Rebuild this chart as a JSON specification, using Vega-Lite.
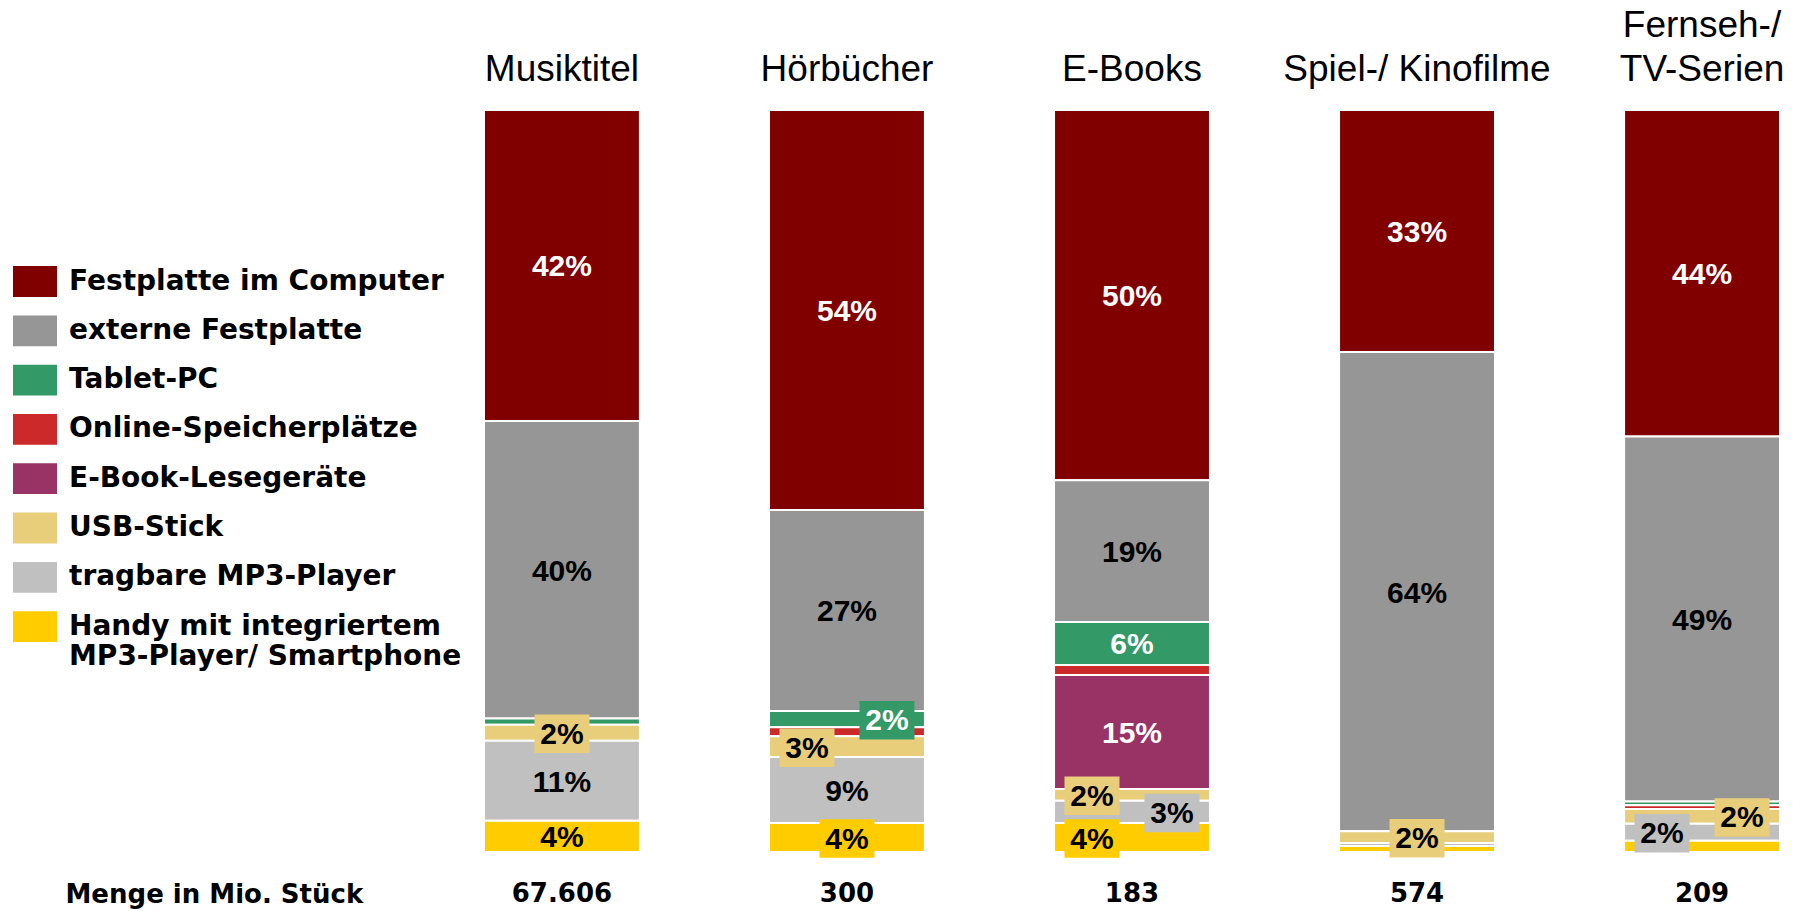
{
  "$schema": "https://vega.github.io/schema/vega-lite/v6.json",
  "autosize": {"type": "none"},
  "padding": {"left": 484, "top": 110, "right": 13, "bottom": 59},
  "width": 1296,
  "height": 742,
  "background": "white",
  "config": {"view": {"stroke": null}},
  "datasets": {
    "shares": [
      {"category": "Musiktitel", "segment": "Festplatte im Computer", "share": 41.9, "label": "42%", "side": "center"},
      {"category": "Musiktitel", "segment": "externe Festplatte", "share": 40.1, "label": "40%", "side": "center"},
      {"category": "Musiktitel", "segment": "Tablet-PC", "share": 0.84, "label": "", "side": "center"},
      {"category": "Musiktitel", "segment": "USB-Stick", "share": 2.16, "label": "2%", "side": "center"},
      {"category": "Musiktitel", "segment": "tragbare MP3-Player", "share": 10.8, "label": "11%", "side": "center"},
      {"category": "Musiktitel", "segment": "Handy mit integriertem MP3-Player/ Smartphone", "share": 4.2, "label": "4%", "side": "center"},
      {"category": "Hörbücher", "segment": "Festplatte im Computer", "share": 53.9, "label": "54%", "side": "center"},
      {"category": "Hörbücher", "segment": "externe Festplatte", "share": 27.1, "label": "27%", "side": "center"},
      {"category": "Hörbücher", "segment": "Tablet-PC", "share": 2.2, "label": "2%", "side": "right"},
      {"category": "Hörbücher", "segment": "Online-Speicherplätze", "share": 1.2, "label": "", "side": "center"},
      {"category": "Hörbücher", "segment": "USB-Stick", "share": 2.8, "label": "3%", "side": "left"},
      {"category": "Hörbücher", "segment": "tragbare MP3-Player", "share": 8.9, "label": "9%", "side": "center"},
      {"category": "Hörbücher", "segment": "Handy mit integriertem MP3-Player/ Smartphone", "share": 3.9, "label": "4%", "side": "center"},
      {"category": "E-Books", "segment": "Festplatte im Computer", "share": 49.9, "label": "50%", "side": "center"},
      {"category": "E-Books", "segment": "externe Festplatte", "share": 19.1, "label": "19%", "side": "center"},
      {"category": "E-Books", "segment": "Tablet-PC", "share": 5.8, "label": "6%", "side": "center"},
      {"category": "E-Books", "segment": "Online-Speicherplätze", "share": 1.35, "label": "", "side": "center"},
      {"category": "E-Books", "segment": "E-Book-Lesegeräte", "share": 15.35, "label": "15%", "side": "center"},
      {"category": "E-Books", "segment": "USB-Stick", "share": 1.6, "label": "2%", "side": "left"},
      {"category": "E-Books", "segment": "tragbare MP3-Player", "share": 3.0, "label": "3%", "side": "right"},
      {"category": "E-Books", "segment": "Handy mit integriertem MP3-Player/ Smartphone", "share": 3.9, "label": "4%", "side": "left"},
      {"category": "Spiel-/ Kinofilme", "segment": "Festplatte im Computer", "share": 32.6, "label": "33%", "side": "center"},
      {"category": "Spiel-/ Kinofilme", "segment": "externe Festplatte", "share": 64.6, "label": "64%", "side": "center"},
      {"category": "Spiel-/ Kinofilme", "segment": "USB-Stick", "share": 1.6, "label": "2%", "side": "center"},
      {"category": "Spiel-/ Kinofilme", "segment": "tragbare MP3-Player", "share": 0.4, "label": "", "side": "center"},
      {"category": "Spiel-/ Kinofilme", "segment": "Handy mit integriertem MP3-Player/ Smartphone", "share": 0.8, "label": "", "side": "center"},
      {"category": "Fernseh-/ TV-Serien", "segment": "Festplatte im Computer", "share": 44.0, "label": "44%", "side": "center"},
      {"category": "Fernseh-/ TV-Serien", "segment": "externe Festplatte", "share": 49.2, "label": "49%", "side": "center"},
      {"category": "Fernseh-/ TV-Serien", "segment": "Tablet-PC", "share": 0.5, "label": "", "side": "center"},
      {"category": "Fernseh-/ TV-Serien", "segment": "Online-Speicherplätze", "share": 0.5, "label": "", "side": "center"},
      {"category": "Fernseh-/ TV-Serien", "segment": "USB-Stick", "share": 2.0, "label": "2%", "side": "right"},
      {"category": "Fernseh-/ TV-Serien", "segment": "tragbare MP3-Player", "share": 2.3, "label": "2%", "side": "left"},
      {"category": "Fernseh-/ TV-Serien", "segment": "Handy mit integriertem MP3-Player/ Smartphone", "share": 1.5, "label": "", "side": "center"}
    ],
    "menge": [
      {"category": "Musiktitel", "menge": "67.606"},
      {"category": "Hörbücher", "menge": "300"},
      {"category": "E-Books", "menge": "183"},
      {"category": "Spiel-/ Kinofilme", "menge": "574"},
      {"category": "Fernseh-/ TV-Serien", "menge": "209"}
    ]
  },
  "resolve": {"axis": {"x": "independent"}},
  "layer": [
    {
      "data": {"name": "shares"},
      "transform": [
        {"calculate": "indexof(['Festplatte im Computer','externe Festplatte','Tablet-PC','Online-Speicherplätze','E-Book-Lesegeräte','USB-Stick','tragbare MP3-Player','Handy mit integriertem MP3-Player/ Smartphone'], datum.segment)", "as": "order"},
        {"stack": "share", "groupby": ["category"], "sort": [{"field": "order", "order": "descending"}], "offset": "normalize", "as": ["y0", "y1"]},
        {"calculate": "(datum.y0 + datum.y1) / 2", "as": "ymid"}
      ],
      "encoding": {
        "x": {
          "field": "category", "type": "nominal",
          "scale": {"domain": ["Musiktitel", "Hörbücher", "E-Books", "Spiel-/ Kinofilme", "Fernseh-/ TV-Serien"], "paddingInner": 0.453, "paddingOuter": 0},
          "axis": {
            "orient": "top", "title": null, "domain": false, "ticks": false, "labelAngle": 0,
            "labelFont": "Liberation Sans", "labelFontSize": 37, "labelColor": "black",
            "labelPadding": 66, "labelBaseline": "bottom", "labelLineHeight": 44, "labelLimit": 0,
            "labelExpr": "datum.value == 'Fernseh-/ TV-Serien' ? ['Fernseh-/', 'TV-Serien'] : ['', datum.label]"
          }
        }
      },
      "layer": [
        {
          "mark": {"type": "bar", "stroke": "white", "strokeWidth": 2},
          "encoding": {
            "y": {"field": "y0", "type": "quantitative", "scale": {"domain": [0, 1], "nice": false}, "axis": null},
            "y2": {"field": "y1"},
            "color": {
              "field": "segment", "type": "nominal",
              "scale": {
                "domain": ["Festplatte im Computer", "externe Festplatte", "Tablet-PC", "Online-Speicherplätze", "E-Book-Lesegeräte", "USB-Stick", "tragbare MP3-Player", "Handy mit integriertem MP3-Player/ Smartphone"],
                "range": ["#800000", "#969696", "#339966", "#CC2A2A", "#993366", "#E8CD7A", "#C0C0C0", "#FFCC00"]
              },
              "legend": {
                "orient": "none", "legendX": -471, "legendY": 149.5, "title": null, "padding": 0,
                "symbolType": "M-1,-0.7H1V0.7H-1Z", "symbolSize": 1936, "symbolStrokeWidth": 0,
                "labelFont": "DejaVu Sans", "labelFontWeight": "bold", "labelFontSize": 28, "labelColor": "black",
                "labelOffset": 12, "rowPadding": 11.3, "labelLimit": 0,
                "labelExpr": "datum.label == 'Handy mit integriertem MP3-Player/ Smartphone' ? ['Handy mit integriertem', 'MP3-Player/ Smartphone'] : datum.label",
                "encode": {"labels": {"enter": {"lineHeight": {"value": 39}}, "update": {"lineHeight": {"value": 39}}}}
              }
            }
          }
        },
        {
          "transform": [{"filter": "datum.label != '' && datum.share < 4.1 && datum.side == 'center'"}],
          "mark": {"type": "point", "filled": true, "opacity": 1, "shape": "M-1,-0.7H1V0.7H-1Z", "size": 3025, "strokeWidth": 0, "yOffset": 1},
          "encoding": {
            "y": {"field": "ymid", "type": "quantitative"},
            "color": {"field": "segment", "type": "nominal", "legend": null}
          }
        },
        {
          "transform": [{"filter": "datum.label != '' && datum.share < 4.1 && datum.side == 'left'"}],
          "mark": {"type": "point", "filled": true, "opacity": 1, "shape": "M-1,-0.7H1V0.7H-1Z", "size": 3025, "strokeWidth": 0, "xOffset": -40, "yOffset": 1},
          "encoding": {
            "y": {"field": "ymid", "type": "quantitative"},
            "color": {"field": "segment", "type": "nominal", "legend": null}
          }
        },
        {
          "transform": [{"filter": "datum.label != '' && datum.share < 4.1 && datum.side == 'right'"}],
          "mark": {"type": "point", "filled": true, "opacity": 1, "shape": "M-1,-0.7H1V0.7H-1Z", "size": 3025, "strokeWidth": 0, "xOffset": 40, "yOffset": 1},
          "encoding": {
            "y": {"field": "ymid", "type": "quantitative"},
            "color": {"field": "segment", "type": "nominal", "legend": null}
          }
        },
        {
          "transform": [{"filter": "datum.label != '' && datum.side == 'center'"}],
          "mark": {"type": "text", "font": "Liberation Sans", "fontWeight": "bold", "fontSize": 30, "baseline": "middle", "align": "center", "dy": 2},
          "encoding": {
            "y": {"field": "ymid", "type": "quantitative"},
            "text": {"field": "label"},
            "color": {"condition": {"test": "indexof(['Festplatte im Computer','Tablet-PC','E-Book-Lesegeräte'], datum.segment) >= 0", "value": "white"}, "value": "black"}
          }
        },
        {
          "transform": [{"filter": "datum.label != '' && datum.side == 'left'"}],
          "mark": {"type": "text", "font": "Liberation Sans", "fontWeight": "bold", "fontSize": 30, "baseline": "middle", "align": "center", "xOffset": -40, "dy": 2},
          "encoding": {
            "y": {"field": "ymid", "type": "quantitative"},
            "text": {"field": "label"},
            "color": {"condition": {"test": "indexof(['Festplatte im Computer','Tablet-PC','E-Book-Lesegeräte'], datum.segment) >= 0", "value": "white"}, "value": "black"}
          }
        },
        {
          "transform": [{"filter": "datum.label != '' && datum.side == 'right'"}],
          "mark": {"type": "text", "font": "Liberation Sans", "fontWeight": "bold", "fontSize": 30, "baseline": "middle", "align": "center", "xOffset": 40, "dy": 2},
          "encoding": {
            "y": {"field": "ymid", "type": "quantitative"},
            "text": {"field": "label"},
            "color": {"condition": {"test": "indexof(['Festplatte im Computer','Tablet-PC','E-Book-Lesegeräte'], datum.segment) >= 0", "value": "white"}, "value": "black"}
          }
        }
      ]
    },
    {
      "data": {"name": "menge"},
      "mark": {"type": "text", "font": "DejaVu Sans", "fontWeight": "bold", "fontSize": 26, "baseline": "middle", "align": "center", "dy": 42, "color": "black"},
      "encoding": {
        "x": {
          "field": "category", "type": "nominal",
          "axis": {
            "orient": "bottom", "labels": false, "ticks": false, "domain": false,
            "title": "Menge in Mio. Stück", "titleX": -419, "titleY": 42, "titleAlign": "left", "titleAnchor": "start", "titleBaseline": "middle",
            "titleFont": "DejaVu Sans", "titleFontWeight": "bold", "titleFontSize": 26, "titleColor": "black"
          }
        },
        "y": {"datum": 0, "type": "quantitative"},
        "text": {"field": "menge"}
      }
    }
  ]
}
